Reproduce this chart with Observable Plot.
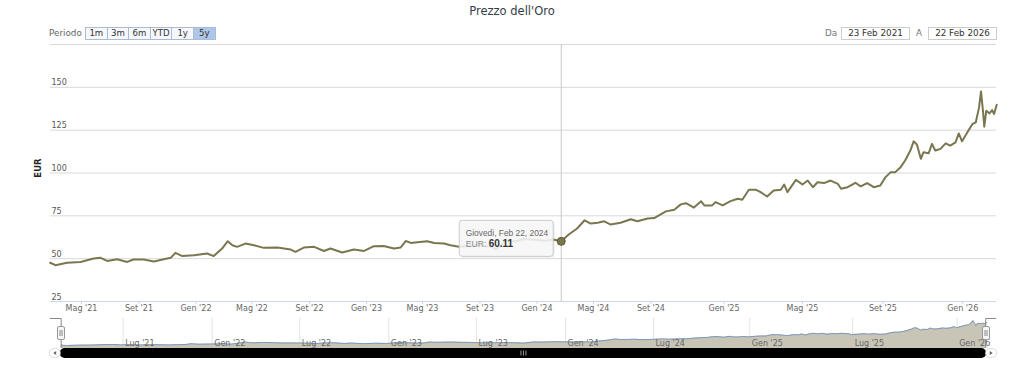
<!DOCTYPE html>
<html><head><meta charset="utf-8">
<script src="https://cdn.jsdelivr.net/npm/d3@7"></script>
<script src="https://cdn.jsdelivr.net/npm/@observablehq/plot@0.6"></script>
<style>
  body{margin:0;background:#fff;font-family:"DejaVu Sans",sans-serif;}
  #wrap{position:relative;width:1024px;height:384px;overflow:hidden;background:#fff;}
  #title{position:absolute;left:0;top:4px;width:1024px;text-align:center;font-size:11.5px;color:#333d4a;}
  #periodo{position:absolute;left:49px;top:28px;font-size:8.8px;color:#666;}
  #buttons{position:absolute;left:86px;top:27px;display:flex;}
  .btn{box-sizing:border-box;width:22.6px;height:13px;border:1px solid #a9bcd6;margin-left:-1px;background:#f6f8fc;font-size:8.6px;color:#333;text-align:center;line-height:11px;}
  .btn.sel{background:#aec7e8;}
  .lbl{position:absolute;top:28px;font-size:8.8px;color:#777;}
  .box{position:absolute;top:27px;height:13px;box-sizing:border-box;border:1px solid #ccc;font-size:8.8px;color:#333;text-align:center;line-height:11px;}
  #main{position:absolute;left:0;top:40px;}
  #nav{position:absolute;left:0;top:318px;}
</style></head>
<body><div id="wrap">
  <div id="title">Prezzo dell'Oro</div>
  <div id="periodo">Periodo</div>
  <div id="buttons"></div>
  <div class="lbl" style="left:825px">Da</div>
  <div class="box" id="from" style="left:841px;width:69px"></div>
  <div class="lbl" style="left:916px">A</div>
  <div class="box" id="to" style="left:928px;width:69px"></div>
  <div id="main"></div>
  <div id="nav"></div>
</div>
<script>
// ---------- data ----------
const dates = [
"2021-02-23","2021-03-06","2021-03-31","2021-04-29","2021-05-27","2021-06-11","2021-06-25","2021-07-16","2021-08-07","2021-08-20",
"2021-09-11","2021-10-03","2021-10-24","2021-11-08","2021-11-18","2021-12-03","2021-12-28","2022-01-25","2022-02-08","2022-02-26",
"2022-03-10","2022-03-20","2022-03-30","2022-04-17","2022-05-05","2022-05-26","2022-06-24","2022-07-23","2022-08-02","2022-08-20",
"2022-09-11","2022-10-02","2022-10-16","2022-11-10","2022-12-05","2022-12-27","2023-01-17","2023-02-07","2023-03-01","2023-03-15",
"2023-03-26","2023-04-06","2023-04-20","2023-05-11","2023-05-26","2023-06-16","2023-06-30","2023-07-18","2023-08-10","2023-09-01",
"2023-09-25","2023-10-05","2023-10-27","2023-11-15","2023-12-04","2023-12-28","2024-01-17","2024-02-05","2024-02-22","2024-03-09",
"2024-03-27","2024-04-12","2024-04-25","2024-05-10","2024-05-24","2024-06-07","2024-06-28","2024-07-20","2024-08-03","2024-08-25",
"2024-09-08","2024-09-20","2024-10-03","2024-10-17","2024-10-27","2024-11-04","2024-11-16","2024-11-27","2024-12-02","2024-12-14",
"2024-12-19","2024-12-30","2025-01-11","2025-01-22","2025-01-29","2025-02-08","2025-02-19","2025-02-26","2025-03-08","2025-03-18",
"2025-03-29","2025-04-03","2025-04-08","2025-04-21","2025-05-01","2025-05-09","2025-05-17","2025-05-24","2025-06-03","2025-06-13",
"2025-06-24","2025-06-29","2025-07-09","2025-07-21","2025-07-29","2025-08-08","2025-08-18","2025-08-28","2025-09-05","2025-09-13",
"2025-09-20","2025-09-28","2025-10-05","2025-10-13","2025-10-18","2025-10-23","2025-10-29","2025-11-02","2025-11-10","2025-11-15",
"2025-11-20","2025-11-28","2025-12-06","2025-12-13","2025-12-21","2025-12-26","2025-12-31","2026-01-08","2026-01-16","2026-01-21",
"2026-01-26","2026-01-29","2026-02-01","2026-02-03","2026-02-06","2026-02-11","2026-02-15","2026-02-18","2026-02-22"];
const values = [
47.6,46.2,47.6,48.1,50.1,50.5,48.7,49.7,48.1,49.5,
49.5,48.4,49.7,50.5,53.4,51.5,52.0,53.0,51.5,55.9,
60.2,57.8,56.9,58.8,57.8,56.3,56.5,55.3,54.0,56.5,
56.9,54.5,55.9,53.6,55.3,54.5,57.3,57.4,55.9,56.5,
60.3,59.2,59.6,60.2,59.2,58.8,57.8,57.0,57.5,58.0,
57.0,55.5,60.5,60.0,61.5,61.0,60.5,61.2,60.11,64.1,
67.6,72.4,70.5,71.0,71.8,69.9,71.0,73.0,71.8,73.4,
73.7,75.5,77.6,78.6,81.7,82.4,79.8,83.5,81.1,81.1,
83.0,81.1,83.6,85.0,84.4,90.2,90.2,88.8,86.3,89.8,
90.2,93.3,88.8,96.0,93.3,95.6,91.7,94.6,94.1,95.6,
93.7,90.8,91.7,94.3,92.2,94.1,91.7,92.7,97.6,100.5,
100.5,103.4,107.3,113.1,118.5,116.6,108.3,112.1,111.5,117.0,
113.1,114.1,117.3,116.0,117.9,123.1,118.5,123.7,128.6,129.5,
138.3,147.6,136.3,127.0,136.3,134.8,136.7,134.4,139.8];

const yTicks = [25, 50, 75, 100, 125, 150, 175];
const yLabels = [25, 50, 75, 100, 125, 150];
const mainTicks = ["2021-05-01","2021-09-01","2022-01-01","2022-05-01","2022-09-01","2023-01-01","2023-05-01","2023-09-01",
                   "2024-01-01","2024-05-01","2024-09-01","2025-01-01","2025-05-01","2025-09-01","2026-01-01"];
const navTicks = ["2021-07-01","2022-01-01","2022-07-01","2023-01-01","2023-07-01","2024-01-01","2024-07-01",
                  "2025-01-01","2025-07-01","2026-01-01"];
const monthsIt = ["Gen","Feb","Mar","Apr","Mag","Giu","Lug","Ago","Set","Ott","Nov","Dic"];
const buttons = ["1m","3m","6m","YTD","1y","5y"];
const selectedButton = "5y";
const fromLabel = "23 Feb 2021", toLabel = "22 Feb 2026";
const tipDate = "2024-02-22", tipValue = 60.11, tipTitle = "Giovedi, Feb 22, 2024", tipSeries = "EUR";
const densitySwitch = "2024-10-07";   // ordinal axis: weekdays only before, every day after

// ---------- helpers ----------
const P = s => new Date(s + "T00:00:00Z");
const rows = dates.map((d, i) => ({date: P(d), value: values[i]}));
const t0 = rows[0].date, t1 = rows[rows.length - 1].date, tSw = P(densitySwitch);
const fmtIt = d => `${monthsIt[d.getUTCMonth()]} '${String(d.getUTCFullYear()).slice(2)}`;
function ordinalRange(left, right, ratio) {
  const early = d3.utcDay.count(t0, tSw) * ratio;
  const late = d3.utcDay.count(tSw, t1);
  return [left, left + (right - left) * early / (early + late), right];
}

// ---------- header ----------
const bdiv = document.getElementById("buttons");
buttons.forEach(b => {
  const e = document.createElement("div");
  e.className = "btn" + (b === selectedButton ? " sel" : "");
  e.textContent = b; bdiv.appendChild(e);
});
document.getElementById("from").textContent = fromLabel;
document.getElementById("to").textContent = toLabel;

// ---------- main chart ----------
const olive = "#7a7650";
const tip = {date: P(tipDate), value: tipValue};
const main = Plot.plot({
  width: 1024, height: 277,
  marginLeft: 50, marginRight: 28, marginTop: 4, marginBottom: 16,
  style: {fontFamily: "DejaVu Sans", fontSize: "8px", background: "transparent", overflow: "visible"},
  x: {type: "utc", domain: [t0, tSw, t1], range: ordinalRange(49.7, 996.2, 5 / 7)},
  y: {domain: [25, 175], axis: null},
  marks: [
    Plot.ruleY(yTicks, {stroke: "#d9d9d9", strokeWidth: 1}),
    Plot.text(yLabels, {y: d => d, text: d => String(d), frameAnchor: "left", textAnchor: "start", lineAnchor: "bottom", dx: 1, dy: -2, fill: "#555"}),
    Plot.ruleX([tip.date], {stroke: "#c8c8c8", strokeWidth: 1}),
    Plot.axisX(mainTicks.map(P), {tickSize: 3, tickPadding: 1, tickFormat: fmtIt, stroke: "#ccd6eb", fill: "#666", label: null}),
    Plot.ruleY([25], {stroke: "#ccd6eb"}),
    Plot.lineY(rows, {x: "date", y: "value", stroke: olive, strokeWidth: 2, strokeLinejoin: "round"}),
    Plot.dot([tip], {x: "date", y: "value", r: 4, fill: olive, stroke: "#5e5b38", strokeWidth: 1})
  ]
});
document.getElementById("main").appendChild(main);

// y-axis title
const svgM = d3.select(main);
svgM.append("text").attr("transform", "translate(41,128) rotate(-90)")
  .attr("text-anchor", "middle").attr("font-size", 8.5).attr("font-weight", "bold").attr("fill", "#222").text("EUR");

// tooltip, positioned from the chart's own scales
const px = main.scale("x").apply(tip.date), py = main.scale("y").apply(tip.value);
const g = svgM.append("g").attr("transform", `translate(${px},${py})`).attr("text-anchor", "start");
g.append("rect").attr("x", -100).attr("y", -19).attr("width", 94).attr("height", 36).attr("rx", 3)
  .attr("fill", "rgba(0,0,0,0.06)");
g.append("rect").attr("x", -101.5).attr("y", -20.5).attr("width", 94).attr("height", 36).attr("rx", 3)
  .attr("fill", "rgba(247,247,247,0.88)").attr("stroke", "#c9c9c9");
g.append("text").attr("x", -95).attr("y", -5).attr("text-anchor", "start").attr("font-family", "Liberation Sans").attr("font-size", 8.4)
  .attr("fill", "#666").text(tipTitle);
const t2 = g.append("text").attr("x", -95).attr("y", 6.5).attr("text-anchor", "start").attr("font-family", "Liberation Sans");
t2.append("tspan").attr("font-size", 8.6).attr("fill", "#888").text(tipSeries + ": ");
t2.append("tspan").attr("font-size", 10).attr("font-weight", "bold").attr("fill", "#333").text(tipValue.toFixed(2));

// ---------- navigator ----------
const navMin = 34, navMax = 156;
const nav = Plot.plot({
  width: 1024, height: 44,
  marginLeft: 61, marginRight: 38, marginTop: 0, marginBottom: 14,
  style: {fontFamily: "DejaVu Sans", fontSize: "8px", background: "transparent", overflow: "visible"},
  x: {type: "utc", domain: [t0, tSw, t1], range: ordinalRange(60.7, 986.2, 0.852), axis: null},
  y: {domain: [navMin, navMax], axis: null},
  marks: [
    Plot.ruleX(navTicks.map(P), {stroke: "#e3e3e3", strokeWidth: 1}),
    Plot.areaY(rows, {x: "date", y1: navMin, y2: "value", fill: "#c8c5b7"}),
    Plot.lineY(rows, {x: "date", y: "value", stroke: "#7d98bb", strokeWidth: 1}),
    Plot.text(navTicks.map(P), {x: d => d, text: fmtIt, frameAnchor: "bottom", lineAnchor: "bottom", textAnchor: "start", dx: 2, dy: -3, fill: "#666"})
  ]
});
document.getElementById("nav").appendChild(nav);
const svgN = d3.select(nav);
const nx0 = nav.scale("x").apply(t0), nx1 = nav.scale("x").apply(t1);
// outline
svgN.append("path").attr("d", `M${nx0 - 11},0.5H${nx0 + 0.5}V30`).attr("fill", "none").attr("stroke", "#888");
svgN.append("path").attr("d", `M${nx1 + 10},0.5H${nx1 - 0.5}V30`).attr("fill", "none").attr("stroke", "#888");
// handles
[nx0, nx1].forEach(x => {
  const h = svgN.append("g").attr("transform", `translate(${Math.round(x) - 3.5},8.5)`);
  h.append("rect").attr("width", 7).attr("height", 13).attr("rx", 1.5).attr("fill", "#f5f5f5").attr("stroke", "#999");
  h.append("path").attr("d", "M2.5,3.5V9.5M4.5,3.5V9.5").attr("stroke", "#888").attr("fill", "none");
});
// scrollbar
svgN.append("rect").attr("x", nx0 - 1).attr("y", 30).attr("width", nx1 - nx0 + 1).attr("height", 10).attr("rx", 5).attr("fill", "#000");
[[nx0 - 6, -1], [nx1 + 5, 1]].forEach(([cx, dir]) => {
  svgN.append("rect").attr("x", cx - 5.5).attr("y", 30.5).attr("width", 11).attr("height", 9).attr("rx", 4.5)
    .attr("fill", "#fff").attr("stroke", "#ddd");
  svgN.append("path").attr("d", `M${cx - dir * 1.5},33 L${cx + dir * 1.5},35 L${cx - dir * 1.5},37 Z`).attr("fill", "#666");
});
const gx = (nx0 + nx1) / 2;
svgN.append("path").attr("d", `M${gx - 2.5},32.5V37.5M${gx},32.5V37.5M${gx + 2.5},32.5V37.5`).attr("stroke", "#999").attr("fill", "none");
</script>
</body></html>
